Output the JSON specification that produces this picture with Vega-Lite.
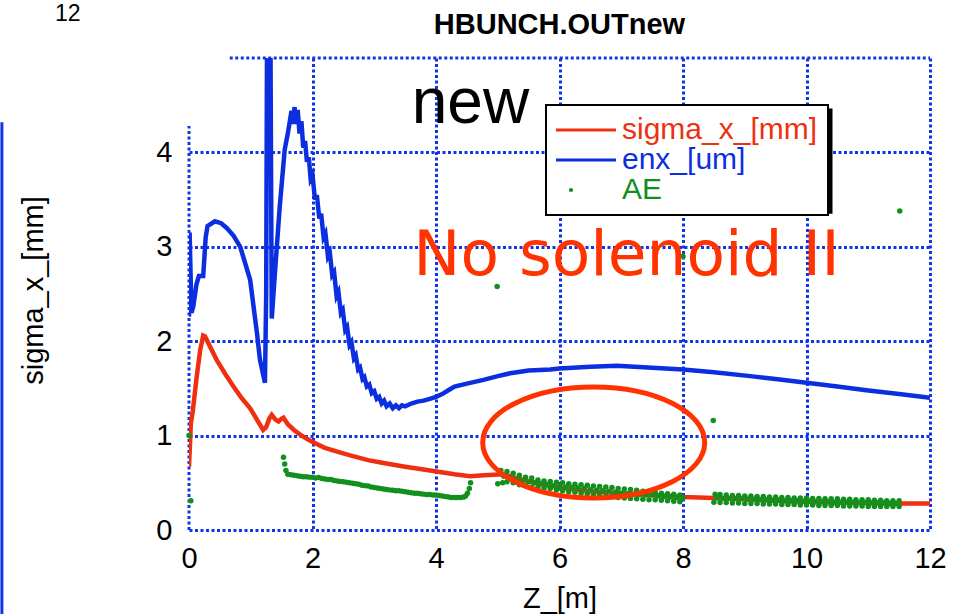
{
"$schema":"https://vega.github.io/schema/vega-lite/v6.json",
"width":741,"height":472,
"autosize":"none",
"padding":{"left":189,"top":58,"right":25,"bottom":84},
"background":"white",
"config":{"view":{"stroke":null},"font":"Liberation Sans"},
"datasets":{
"curves":[
{"s":"sigma_x_[mm]","z":0,"v":0.67},{"s":"sigma_x_[mm]","z":0.03,"v":1.13},{"s":"sigma_x_[mm]","z":0.06,"v":1.25},{"s":"sigma_x_[mm]","z":0.12,"v":1.6},{"s":"sigma_x_[mm]","z":0.18,"v":1.9},{"s":"sigma_x_[mm]","z":0.23,"v":2.06},{"s":"sigma_x_[mm]","z":0.26,"v":2.05},{"s":"sigma_x_[mm]","z":0.35,"v":1.93},{"s":"sigma_x_[mm]","z":0.45,"v":1.8},{"s":"sigma_x_[mm]","z":0.6,"v":1.64},{"s":"sigma_x_[mm]","z":0.72,"v":1.52},{"s":"sigma_x_[mm]","z":0.85,"v":1.4},{"s":"sigma_x_[mm]","z":0.99,"v":1.29},{"s":"sigma_x_[mm]","z":1.1,"v":1.17},{"s":"sigma_x_[mm]","z":1.2,"v":1.06},{"s":"sigma_x_[mm]","z":1.25,"v":1.09},{"s":"sigma_x_[mm]","z":1.3,"v":1.18},{"s":"sigma_x_[mm]","z":1.34,"v":1.22},{"s":"sigma_x_[mm]","z":1.4,"v":1.17},{"s":"sigma_x_[mm]","z":1.45,"v":1.15},{"s":"sigma_x_[mm]","z":1.5,"v":1.18},{"s":"sigma_x_[mm]","z":1.53,"v":1.19},{"s":"sigma_x_[mm]","z":1.6,"v":1.12},{"s":"sigma_x_[mm]","z":1.7,"v":1.06},{"s":"sigma_x_[mm]","z":1.8,"v":1.01},{"s":"sigma_x_[mm]","z":1.9,"v":0.97},{"s":"sigma_x_[mm]","z":2.01,"v":0.93},{"s":"sigma_x_[mm]","z":2.2,"v":0.87},{"s":"sigma_x_[mm]","z":2.4,"v":0.83},{"s":"sigma_x_[mm]","z":2.61,"v":0.79},{"s":"sigma_x_[mm]","z":2.9,"v":0.74},{"s":"sigma_x_[mm]","z":3.15,"v":0.71},{"s":"sigma_x_[mm]","z":3.5,"v":0.67},{"s":"sigma_x_[mm]","z":3.8,"v":0.64},{"s":"sigma_x_[mm]","z":4.01,"v":0.62},{"s":"sigma_x_[mm]","z":4.3,"v":0.59},{"s":"sigma_x_[mm]","z":4.55,"v":0.57},{"s":"sigma_x_[mm]","z":4.77,"v":0.58},{"s":"sigma_x_[mm]","z":5.09,"v":0.59},{"s":"sigma_x_[mm]","z":5.3,"v":0.55},{"s":"sigma_x_[mm]","z":5.6,"v":0.5},{"s":"sigma_x_[mm]","z":6.0,"v":0.45},{"s":"sigma_x_[mm]","z":6.5,"v":0.41},{"s":"sigma_x_[mm]","z":7.0,"v":0.39},{"s":"sigma_x_[mm]","z":7.5,"v":0.37},{"s":"sigma_x_[mm]","z":8.0,"v":0.35},{"s":"sigma_x_[mm]","z":8.5,"v":0.34},{"s":"sigma_x_[mm]","z":9.0,"v":0.33},{"s":"sigma_x_[mm]","z":9.5,"v":0.31},{"s":"sigma_x_[mm]","z":10.0,"v":0.3},{"s":"sigma_x_[mm]","z":10.5,"v":0.29},{"s":"sigma_x_[mm]","z":11.0,"v":0.29},{"s":"sigma_x_[mm]","z":11.5,"v":0.28},{"s":"sigma_x_[mm]","z":12.0,"v":0.28},
{"s":"enx_[um]","z":0,"v":2.26},{"s":"enx_[um]","z":0.01,"v":3.15},{"s":"enx_[um]","z":0.04,"v":2.3},{"s":"enx_[um]","z":0.07,"v":2.37},{"s":"enx_[um]","z":0.12,"v":2.6},{"s":"enx_[um]","z":0.16,"v":2.69},{"s":"enx_[um]","z":0.23,"v":2.69},{"s":"enx_[um]","z":0.27,"v":3.1},{"s":"enx_[um]","z":0.3,"v":3.22},{"s":"enx_[um]","z":0.42,"v":3.27},{"s":"enx_[um]","z":0.52,"v":3.25},{"s":"enx_[um]","z":0.61,"v":3.2},{"s":"enx_[um]","z":0.72,"v":3.12},{"s":"enx_[um]","z":0.83,"v":3.0},{"s":"enx_[um]","z":0.99,"v":2.65},{"s":"enx_[um]","z":1.1,"v":2.09},{"s":"enx_[um]","z":1.15,"v":1.8},{"s":"enx_[um]","z":1.23,"v":1.56},{"s":"enx_[um]","z":1.25,"v":2.5},{"s":"enx_[um]","z":1.27,"v":6.5},{"s":"enx_[um]","z":1.31,"v":6.5},{"s":"enx_[um]","z":1.34,"v":2.24},{"s":"enx_[um]","z":1.4,"v":2.8},{"s":"enx_[um]","z":1.47,"v":3.43},{"s":"enx_[um]","z":1.55,"v":4.03},{"s":"enx_[um]","z":1.6,"v":4.2},{"s":"enx_[um]","z":1.66,"v":4.44},{"s":"enx_[um]","z":1.68,"v":4.3},{"s":"enx_[um]","z":1.71,"v":4.48},{"s":"enx_[um]","z":1.73,"v":4.3},{"s":"enx_[um]","z":1.76,"v":4.45},{"s":"enx_[um]","z":1.79,"v":4.2},{"s":"enx_[um]","z":1.82,"v":4.33},{"s":"enx_[um]","z":1.85,"v":4.05},{"s":"enx_[um]","z":1.88,"v":4.12},{"s":"enx_[um]","z":1.91,"v":3.9},{"s":"enx_[um]","z":1.94,"v":3.95},{"s":"enx_[um]","z":1.97,"v":3.72},{"s":"enx_[um]","z":2.0,"v":3.76},{"s":"enx_[um]","z":2.04,"v":3.5},{"s":"enx_[um]","z":2.07,"v":3.55},{"s":"enx_[um]","z":2.11,"v":3.3},{"s":"enx_[um]","z":2.14,"v":3.35},{"s":"enx_[um]","z":2.18,"v":3.1},{"s":"enx_[um]","z":2.21,"v":3.14},{"s":"enx_[um]","z":2.25,"v":2.9},{"s":"enx_[um]","z":2.28,"v":2.94},{"s":"enx_[um]","z":2.32,"v":2.7},{"s":"enx_[um]","z":2.35,"v":2.73},{"s":"enx_[um]","z":2.39,"v":2.48},{"s":"enx_[um]","z":2.42,"v":2.52},{"s":"enx_[um]","z":2.46,"v":2.3},{"s":"enx_[um]","z":2.49,"v":2.33},{"s":"enx_[um]","z":2.53,"v":2.12},{"s":"enx_[um]","z":2.56,"v":2.15},{"s":"enx_[um]","z":2.6,"v":1.96},{"s":"enx_[um]","z":2.63,"v":1.99},{"s":"enx_[um]","z":2.67,"v":1.82},{"s":"enx_[um]","z":2.7,"v":1.85},{"s":"enx_[um]","z":2.74,"v":1.7},{"s":"enx_[um]","z":2.77,"v":1.72},{"s":"enx_[um]","z":2.81,"v":1.6},{"s":"enx_[um]","z":2.84,"v":1.62},{"s":"enx_[um]","z":2.88,"v":1.52},{"s":"enx_[um]","z":2.92,"v":1.54},{"s":"enx_[um]","z":2.96,"v":1.45},{"s":"enx_[um]","z":3.0,"v":1.47},{"s":"enx_[um]","z":3.04,"v":1.39},{"s":"enx_[um]","z":3.08,"v":1.41},{"s":"enx_[um]","z":3.12,"v":1.34},{"s":"enx_[um]","z":3.16,"v":1.37},{"s":"enx_[um]","z":3.2,"v":1.31},{"s":"enx_[um]","z":3.25,"v":1.34},{"s":"enx_[um]","z":3.3,"v":1.29},{"s":"enx_[um]","z":3.35,"v":1.32},{"s":"enx_[um]","z":3.4,"v":1.29},{"s":"enx_[um]","z":3.45,"v":1.32},{"s":"enx_[um]","z":3.5,"v":1.31},{"s":"enx_[um]","z":3.6,"v":1.34},{"s":"enx_[um]","z":3.7,"v":1.36},{"s":"enx_[um]","z":3.8,"v":1.37},{"s":"enx_[um]","z":3.9,"v":1.39},{"s":"enx_[um]","z":4.0,"v":1.41},{"s":"enx_[um]","z":4.1,"v":1.44},{"s":"enx_[um]","z":4.2,"v":1.48},{"s":"enx_[um]","z":4.3,"v":1.52},{"s":"enx_[um]","z":4.5,"v":1.55},{"s":"enx_[um]","z":4.77,"v":1.59},{"s":"enx_[um]","z":5.0,"v":1.63},{"s":"enx_[um]","z":5.2,"v":1.66},{"s":"enx_[um]","z":5.5,"v":1.69},{"s":"enx_[um]","z":5.85,"v":1.7},{"s":"enx_[um]","z":6.0,"v":1.71},{"s":"enx_[um]","z":6.5,"v":1.73},{"s":"enx_[um]","z":6.93,"v":1.74},{"s":"enx_[um]","z":7.5,"v":1.72},{"s":"enx_[um]","z":8.0,"v":1.7},{"s":"enx_[um]","z":8.5,"v":1.67},{"s":"enx_[um]","z":9.09,"v":1.63},{"s":"enx_[um]","z":9.5,"v":1.6},{"s":"enx_[um]","z":10.0,"v":1.56},{"s":"enx_[um]","z":10.5,"v":1.52},{"s":"enx_[um]","z":10.97,"v":1.48},{"s":"enx_[um]","z":11.5,"v":1.44},{"s":"enx_[um]","z":12.0,"v":1.4}
],
"ae":[
{"s":"AE","z":0.0,"v":1.0},{"s":"AE","z":0.03,"v":0.31},{"s":"AE","z":4.99,"v":2.58},{"s":"AE","z":8.0,"v":2.9},{"s":"AE","z":8.49,"v":1.16},{"s":"AE","z":11.51,"v":3.38},
{"s":"AE","z":1.53,"v":0.77},{"s":"AE","z":1.55,"v":0.7},{"s":"AE","z":1.57,"v":0.63},{"s":"AE","z":1.6,"v":0.59},{"s":"AE","z":1.65,"v":0.585},{"s":"AE","z":1.7,"v":0.58},{"s":"AE","z":1.75,"v":0.575},{"s":"AE","z":1.8,"v":0.57},{"s":"AE","z":1.85,"v":0.565},{"s":"AE","z":1.9,"v":0.565},{"s":"AE","z":1.95,"v":0.56},{"s":"AE","z":2.0,"v":0.56},{"s":"AE","z":2.05,"v":0.55},{"s":"AE","z":2.1,"v":0.555},{"s":"AE","z":2.15,"v":0.545},{"s":"AE","z":2.2,"v":0.54},{"s":"AE","z":2.25,"v":0.535},{"s":"AE","z":2.3,"v":0.535},{"s":"AE","z":2.35,"v":0.525},{"s":"AE","z":2.4,"v":0.52},{"s":"AE","z":2.45,"v":0.515},{"s":"AE","z":2.5,"v":0.51},{"s":"AE","z":2.55,"v":0.505},{"s":"AE","z":2.6,"v":0.5},{"s":"AE","z":2.65,"v":0.495},{"s":"AE","z":2.7,"v":0.49},{"s":"AE","z":2.75,"v":0.485},{"s":"AE","z":2.8,"v":0.475},{"s":"AE","z":2.85,"v":0.47},{"s":"AE","z":2.9,"v":0.465},{"s":"AE","z":2.95,"v":0.455},{"s":"AE","z":3.0,"v":0.45},{"s":"AE","z":3.05,"v":0.445},{"s":"AE","z":3.1,"v":0.44},{"s":"AE","z":3.15,"v":0.435},{"s":"AE","z":3.2,"v":0.43},{"s":"AE","z":3.25,"v":0.425},{"s":"AE","z":3.3,"v":0.42},{"s":"AE","z":3.35,"v":0.415},{"s":"AE","z":3.4,"v":0.415},{"s":"AE","z":3.45,"v":0.41},{"s":"AE","z":3.5,"v":0.405},{"s":"AE","z":3.55,"v":0.4},{"s":"AE","z":3.6,"v":0.395},{"s":"AE","z":3.65,"v":0.39},{"s":"AE","z":3.7,"v":0.39},{"s":"AE","z":3.75,"v":0.385},{"s":"AE","z":3.8,"v":0.38},{"s":"AE","z":3.85,"v":0.375},{"s":"AE","z":3.9,"v":0.375},{"s":"AE","z":3.95,"v":0.37},{"s":"AE","z":4.0,"v":0.37},{"s":"AE","z":4.05,"v":0.365},{"s":"AE","z":4.1,"v":0.36},{"s":"AE","z":4.15,"v":0.355},{"s":"AE","z":4.2,"v":0.35},{"s":"AE","z":4.25,"v":0.345},{"s":"AE","z":4.3,"v":0.345},{"s":"AE","z":4.35,"v":0.345},{"s":"AE","z":4.4,"v":0.345},{"s":"AE","z":4.45,"v":0.35},{"s":"AE","z":4.48,"v":0.36},{"s":"AE","z":4.51,"v":0.39},{"s":"AE","z":4.54,"v":0.44},{"s":"AE","z":4.56,"v":0.5},
{"s":"AE","z":5.05,"v":0.63},{"s":"AE","z":5.15,"v":0.62},{"s":"AE","z":5.25,"v":0.6},{"s":"AE","z":5.35,"v":0.58},{"s":"AE","z":5.45,"v":0.56},{"s":"AE","z":5.55,"v":0.55},{"s":"AE","z":5.65,"v":0.53},{"s":"AE","z":5.75,"v":0.52},{"s":"AE","z":5.85,"v":0.515},{"s":"AE","z":5.95,"v":0.505},{"s":"AE","z":6.05,"v":0.5},{"s":"AE","z":6.15,"v":0.49},{"s":"AE","z":6.25,"v":0.485},{"s":"AE","z":6.35,"v":0.48},{"s":"AE","z":6.45,"v":0.475},{"s":"AE","z":6.55,"v":0.465},{"s":"AE","z":6.65,"v":0.46},{"s":"AE","z":6.75,"v":0.455},{"s":"AE","z":6.85,"v":0.45},{"s":"AE","z":6.95,"v":0.44},{"s":"AE","z":7.05,"v":0.435},{"s":"AE","z":7.15,"v":0.43},{"s":"AE","z":7.25,"v":0.42},{"s":"AE","z":7.35,"v":0.41},{"s":"AE","z":7.45,"v":0.405},{"s":"AE","z":7.55,"v":0.4},{"s":"AE","z":7.65,"v":0.39},{"s":"AE","z":7.75,"v":0.385},{"s":"AE","z":7.85,"v":0.38},{"s":"AE","z":7.95,"v":0.37},
{"s":"AE","z":5.1,"v":0.57},{"s":"AE","z":5.2,"v":0.55},{"s":"AE","z":5.3,"v":0.53},{"s":"AE","z":5.4,"v":0.52},{"s":"AE","z":5.5,"v":0.51},{"s":"AE","z":5.6,"v":0.5},{"s":"AE","z":5.7,"v":0.49},{"s":"AE","z":5.8,"v":0.48},{"s":"AE","z":5.9,"v":0.47},{"s":"AE","z":6.0,"v":0.46},{"s":"AE","z":6.1,"v":0.455},{"s":"AE","z":6.2,"v":0.45},{"s":"AE","z":6.3,"v":0.445},{"s":"AE","z":6.4,"v":0.44},{"s":"AE","z":6.5,"v":0.43},{"s":"AE","z":6.6,"v":0.42},{"s":"AE","z":6.7,"v":0.415},{"s":"AE","z":6.8,"v":0.41},{"s":"AE","z":6.9,"v":0.4},{"s":"AE","z":7.0,"v":0.39},{"s":"AE","z":7.1,"v":0.385},{"s":"AE","z":7.2,"v":0.38},{"s":"AE","z":7.3,"v":0.375},{"s":"AE","z":7.4,"v":0.37},{"s":"AE","z":7.5,"v":0.37},{"s":"AE","z":7.6,"v":0.36},{"s":"AE","z":7.7,"v":0.355},{"s":"AE","z":7.8,"v":0.35},{"s":"AE","z":7.9,"v":0.345},{"s":"AE","z":8.0,"v":0.34},
{"s":"AE","z":5.0,"v":0.49},{"s":"AE","z":5.08,"v":0.5},{"s":"AE","z":5.15,"v":0.51},{"s":"AE","z":5.25,"v":0.5},{"s":"AE","z":5.35,"v":0.48},{"s":"AE","z":5.45,"v":0.47},{"s":"AE","z":5.55,"v":0.455},{"s":"AE","z":5.65,"v":0.45},{"s":"AE","z":5.75,"v":0.445},{"s":"AE","z":5.85,"v":0.44},{"s":"AE","z":5.95,"v":0.425},{"s":"AE","z":6.05,"v":0.415},{"s":"AE","z":6.15,"v":0.405},{"s":"AE","z":6.25,"v":0.4},{"s":"AE","z":6.35,"v":0.39},{"s":"AE","z":6.45,"v":0.385},{"s":"AE","z":6.55,"v":0.375},{"s":"AE","z":6.65,"v":0.37},{"s":"AE","z":6.75,"v":0.36},{"s":"AE","z":6.85,"v":0.355},{"s":"AE","z":6.95,"v":0.345},{"s":"AE","z":7.05,"v":0.34},{"s":"AE","z":7.15,"v":0.335},{"s":"AE","z":7.25,"v":0.33},{"s":"AE","z":7.35,"v":0.325},{"s":"AE","z":7.45,"v":0.32},{"s":"AE","z":7.55,"v":0.32},{"s":"AE","z":7.65,"v":0.315},{"s":"AE","z":7.75,"v":0.31},{"s":"AE","z":7.85,"v":0.305},{"s":"AE","z":7.95,"v":0.3},
{"s":"AE","z":8.52,"v":0.38},{"s":"AE","z":8.6,"v":0.375},{"s":"AE","z":8.7,"v":0.37},{"s":"AE","z":8.8,"v":0.365},{"s":"AE","z":8.9,"v":0.365},{"s":"AE","z":9.0,"v":0.36},{"s":"AE","z":9.1,"v":0.36},{"s":"AE","z":9.2,"v":0.355},{"s":"AE","z":9.3,"v":0.355},{"s":"AE","z":9.4,"v":0.35},{"s":"AE","z":9.5,"v":0.35},{"s":"AE","z":9.6,"v":0.345},{"s":"AE","z":9.7,"v":0.345},{"s":"AE","z":9.8,"v":0.34},{"s":"AE","z":9.9,"v":0.34},{"s":"AE","z":10.0,"v":0.34},{"s":"AE","z":10.1,"v":0.335},{"s":"AE","z":10.2,"v":0.335},{"s":"AE","z":10.3,"v":0.33},{"s":"AE","z":10.4,"v":0.33},{"s":"AE","z":10.5,"v":0.33},{"s":"AE","z":10.6,"v":0.325},{"s":"AE","z":10.7,"v":0.325},{"s":"AE","z":10.8,"v":0.32},{"s":"AE","z":10.9,"v":0.32},{"s":"AE","z":11.0,"v":0.32},{"s":"AE","z":11.1,"v":0.315},{"s":"AE","z":11.2,"v":0.315},{"s":"AE","z":11.3,"v":0.31},{"s":"AE","z":11.4,"v":0.31},{"s":"AE","z":11.5,"v":0.31},
{"s":"AE","z":8.55,"v":0.34},{"s":"AE","z":8.65,"v":0.335},{"s":"AE","z":8.75,"v":0.335},{"s":"AE","z":8.85,"v":0.33},{"s":"AE","z":8.95,"v":0.33},{"s":"AE","z":9.05,"v":0.325},{"s":"AE","z":9.15,"v":0.325},{"s":"AE","z":9.25,"v":0.32},{"s":"AE","z":9.35,"v":0.32},{"s":"AE","z":9.45,"v":0.315},{"s":"AE","z":9.55,"v":0.315},{"s":"AE","z":9.65,"v":0.31},{"s":"AE","z":9.75,"v":0.31},{"s":"AE","z":9.85,"v":0.31},{"s":"AE","z":9.95,"v":0.305},{"s":"AE","z":10.05,"v":0.305},{"s":"AE","z":10.15,"v":0.3},{"s":"AE","z":10.25,"v":0.3},{"s":"AE","z":10.35,"v":0.3},{"s":"AE","z":10.45,"v":0.295},{"s":"AE","z":10.55,"v":0.295},{"s":"AE","z":10.65,"v":0.295},{"s":"AE","z":10.75,"v":0.29},{"s":"AE","z":10.85,"v":0.29},{"s":"AE","z":10.95,"v":0.29},{"s":"AE","z":11.05,"v":0.285},{"s":"AE","z":11.15,"v":0.285},{"s":"AE","z":11.25,"v":0.285},{"s":"AE","z":11.35,"v":0.28},{"s":"AE","z":11.45,"v":0.28},
{"s":"AE","z":8.5,"v":0.295},{"s":"AE","z":8.6,"v":0.29},{"s":"AE","z":8.7,"v":0.29},{"s":"AE","z":8.8,"v":0.285},{"s":"AE","z":8.9,"v":0.285},{"s":"AE","z":9.0,"v":0.28},{"s":"AE","z":9.1,"v":0.28},{"s":"AE","z":9.2,"v":0.28},{"s":"AE","z":9.3,"v":0.275},{"s":"AE","z":9.4,"v":0.275},{"s":"AE","z":9.5,"v":0.275},{"s":"AE","z":9.6,"v":0.27},{"s":"AE","z":9.7,"v":0.27},{"s":"AE","z":9.8,"v":0.27},{"s":"AE","z":9.9,"v":0.265},{"s":"AE","z":10.0,"v":0.265},{"s":"AE","z":10.1,"v":0.265},{"s":"AE","z":10.2,"v":0.26},{"s":"AE","z":10.3,"v":0.26},{"s":"AE","z":10.4,"v":0.26},{"s":"AE","z":10.5,"v":0.26},{"s":"AE","z":10.6,"v":0.255},{"s":"AE","z":10.7,"v":0.255},{"s":"AE","z":10.8,"v":0.255},{"s":"AE","z":10.9,"v":0.255},{"s":"AE","z":11.0,"v":0.25},{"s":"AE","z":11.1,"v":0.25},{"s":"AE","z":11.2,"v":0.25},{"s":"AE","z":11.3,"v":0.25},{"s":"AE","z":11.4,"v":0.25},{"s":"AE","z":11.5,"v":0.25}
],
"shadow":[{"z":5.854,"z2":10.421,"v":3.351,"v2":4.464}],
"frame":[{"z":0,"z2":0,"v":0,"v2":4.28},{"z":0.66,"z2":12,"v":5,"v2":5}],
"edge":[{"z":-3.03,"z2":-3.03,"v":4.32,"v2":-0.9}],
"ellipse":[{"z":6.554,"v":0.928}],
"newtext":[{"z":3.607,"v":4.313,"label":"new"}],
"note":[{"z":3.632,"v":2.704,"label":"No solenoid II"}],
"corner":[{"z":-2.17,"v":5.395,"label":"12"}],
"heading":[{"z":6.0,"v":5.249,"label":"HBUNCH.OUTnew"}]
},
"encoding":{
"x":{"field":"z","type":"quantitative","scale":{"domain":[0,12],"nice":false,"zero":false},
 "axis":{"title":"Z_[m]","values":[0,2,4,6,8,10,12],"grid":true,"gridColor":"#1035e8","gridDash":[3,2.5],"gridWidth":3,
 "gridOpacity":{"condition":{"test":"datum.value === 0","value":0},"value":1},
 "domain":false,"ticks":false,"labelFlush":false,"labelOverlap":false,"labelFontSize":29,"labelColor":"black","labelPadding":14,"labelFont":"Liberation Sans",
 "titleFontSize":29,"titleFont":"Liberation Sans","titleFontWeight":"normal","titleColor":"black","titleY":68,"titleBaseline":"middle"}},
"y":{"field":"v","type":"quantitative","scale":{"domain":[0,5],"nice":false,"zero":false},
 "axis":{"title":"sigma_x_[mm]","values":[0,1,2,3,4],"grid":true,"gridColor":"#1035e8","gridDash":[3,2.5],"gridWidth":3,
 "domain":false,"ticks":false,"labelFlush":false,"labelOverlap":false,"labelFontSize":29,"labelColor":"black","labelPadding":17,"labelFont":"Liberation Sans",
 "titleFontSize":29,"titleFont":"Liberation Sans","titleFontWeight":"normal","titleColor":"black","titleX":-156,"titleY":232,"titleAngle":270,"titleAlign":"center","titleBaseline":"middle"}}
},
"layer":[
{"data":{"name":"shadow"},"mark":{"type":"rect","color":"black"},"encoding":{"x2":{"field":"z2"},"y2":{"field":"v2"}}},
{"data":{"name":"frame"},"mark":{"type":"rule","color":"#1035e8","strokeWidth":3,"strokeDash":[3,2.5]},"encoding":{"x2":{"field":"z2"},"y2":{"field":"v2"}}},
{"data":{"name":"edge"},"mark":{"type":"rule","color":"#1035e8","strokeWidth":3},"encoding":{"x2":{"field":"z2"},"y2":{"field":"v2"}}},
{"data":{"name":"curves"},"mark":{"type":"line","strokeWidth":4.5,"clip":true},
 "encoding":{"color":{"field":"s","type":"nominal",
  "scale":{"domain":["sigma_x_[mm]","enx_[um]","AE"],"range":["#ee3010","#0b2fe0","#12901e"]},
  "legend":{"orient":"none","legendX":357,"legendY":47,"title":null,"fillColor":"white","strokeColor":"black","padding":10,
   "labelFontSize":30,"labelFont":"Liberation Sans","labelLimit":400,"rowPadding":-3,"symbolType":"M-2.5,0H7.5","symbolSize":144,"symbolStrokeWidth":3,"labelOffset":36,
   "encode":{
    "legend":{"update":{"strokeWidth":{"value":2}}},
    "symbols":{"update":{
     "shape":{"signal":"datum.value === 'AE' ? 'circle' : 'M-2.5,0H7.5'"},
     "size":{"signal":"datum.value === 'AE' ? 18 : 144"},
     "stroke":{"signal":"scale('color', datum.value)"},
     "fill":{"signal":"datum.value === 'AE' ? scale('color', datum.value) : 'transparent'"},
     "strokeWidth":{"signal":"datum.value === 'AE' ? 0 : 3"},
     "opacity":{"value":1}}},
    "labels":{"update":{"fill":{"signal":"scale('color', datum.value)"}}}}}}}},
{"data":{"name":"ae"},"mark":{"type":"point","filled":true,"size":30,"opacity":1},
 "encoding":{"color":{"field":"s","type":"nominal"}}},
{"data":{"name":"ellipse"},"mark":{"type":"point","shape":"M-1,0A1,0.5,0,1,1,1,0A1,0.5,0,1,1,-1,0Z","size":49284,"filled":false,"stroke":"#ff3300","strokeWidth":5,"opacity":1}},
{"data":{"name":"newtext"},"mark":{"type":"text","fontSize":64,"font":"Liberation Sans","align":"left","baseline":"alphabetic","color":"black"},"encoding":{"text":{"field":"label"}}},
{"data":{"name":"note"},"mark":{"type":"text","fontSize":63,"font":"DejaVu Sans","align":"left","baseline":"alphabetic","color":"#ff3300"},"encoding":{"text":{"field":"label"}}},
{"data":{"name":"corner"},"mark":{"type":"text","fontSize":23,"font":"Liberation Sans","align":"left","baseline":"alphabetic","color":"black"},"encoding":{"text":{"field":"label"}}},
{"data":{"name":"heading"},"mark":{"type":"text","fontSize":29,"font":"Liberation Sans","fontWeight":"bold","align":"center","baseline":"alphabetic","color":"black"},"encoding":{"text":{"field":"label"}}}
]
}
